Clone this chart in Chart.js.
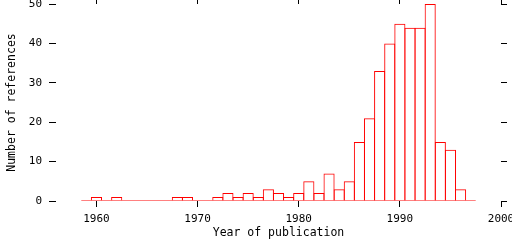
<!DOCTYPE html>
<html>
<head>
<meta charset="utf-8">
<script src="https://cdn.jsdelivr.net/npm/chart.js@4/dist/chart.umd.min.js"></script>
<style>
  html, body { margin: 0; padding: 0; background: #fff; }
  #wrap { width: 512px; height: 240px; }
</style>
</head>
<body>
<div id="wrap"><canvas id="chart" width="512" height="240"></canvas></div>
<script>
// histogram of references per year
const years = [1959, 1960, 1961, 1962, 1963, 1964, 1965, 1966, 1967, 1968,
  1969, 1970, 1971, 1972, 1973, 1974, 1975, 1976, 1977, 1978,
  1979, 1980, 1981, 1982, 1983, 1984, 1985, 1986, 1987, 1988,
  1989, 1990, 1991, 1992, 1993, 1994, 1995, 1996, 1997];
const counts = [0, 1, 0, 1, 0, 0, 0, 0, 0, 1,
  1, 0, 0, 1, 2, 1, 2, 1, 3, 2,
  1, 2, 5, 2, 7, 3, 5, 15, 21, 33,
  40, 45, 44, 44, 50, 15, 13, 3, 0];
const xTicks = [1960, 1970, 1980, 1990, 2000];
const yTicks = [0, 10, 20, 30, 40, 50];

const red = '#ff0000';
const mono = "'DejaVu Sans Mono', monospace";
const yearPx = (501 - 56) / 44;

const bars = years.map((y, i) => ({ x: y, y: counts[i] }));
const baseline = [
  { x: years[0] - 0.5, y: 0 },
  { x: years[years.length - 1] + 0.5, y: 0 }
];

// force axis box sizes and drop the label overflow padding
function fixSize(w, h) {
  return function (scale) {
    if (w != null) scale.width = w;
    if (h != null) scale.height = h;
    scale.paddingLeft = 0;
    scale.paddingRight = 0;
    scale.paddingTop = 0;
    scale.paddingBottom = 0;
  };
}

const ctx = document.getElementById('chart').getContext('2d');
new Chart(ctx, {
  data: {
    datasets: [
      {
        type: 'bar',
        data: bars,
        backgroundColor: 'rgba(0,0,0,0)',
        borderColor: red,
        borderWidth: 1,
        categoryPercentage: 1,
        barPercentage: 1 + 1 / yearPx,
        xAxisID: 'x',
        yAxisID: 'y'
      },
      {
        type: 'line',
        data: baseline,
        borderColor: red,
        borderWidth: 1,
        pointRadius: 0,
        xAxisID: 'x',
        yAxisID: 'y'
      }
    ]
  },
  options: {
    responsive: false,
    animation: false,
    events: [],
    layout: { padding: 0, autoPadding: false },
    plugins: { legend: { display: false }, tooltip: { enabled: false } },
    scales: {
      x: {
        type: 'linear',
        position: 'bottom',
        min: 1956,
        max: 2000,
        offset: false,
        afterFit: fixSize(null, 39),
        afterBuildTicks: (s) => { s.ticks = xTicks.map(v => ({ value: v })); },
        ticks: {
          includeBounds: false,
          maxRotation: 0,
          autoSkip: false,
          padding: 6,
          color: '#000',
          font: { family: mono, size: 11 },
          callback: (v) => String(v)
        },
        grid: { offset: false, drawOnChartArea: false, tickLength: 6, tickColor: '#000', tickWidth: 1 },
        border: { display: false },
        title: {
          display: true,
          text: 'Year of publication',
          color: '#000',
          font: { family: mono, size: 11.5 },
          padding: { top: 0, bottom: 0 }
        }
      },
      xTop: {
        type: 'linear',
        position: 'top',
        min: 1956,
        max: 2000,
        offset: false,
        afterFit: fixSize(null, 4),
        afterBuildTicks: (s) => { s.ticks = xTicks.map(v => ({ value: v })); },
        ticks: { display: false },
        grid: { offset: false, drawOnChartArea: false, tickLength: 4, tickColor: '#000', tickWidth: 1 },
        border: { display: false }
      },
      y: {
        type: 'linear',
        position: 'left',
        min: 0,
        max: 50,
        afterFit: fixSize(56, null),
        afterBuildTicks: (s) => { s.ticks = yTicks.map(v => ({ value: v })); },
        ticks: {
          padding: 7,
          color: '#000',
          font: { family: mono, size: 11 }
        },
        grid: { drawOnChartArea: false, tickLength: 7, tickColor: '#000', tickWidth: 1 },
        border: { display: false },
        title: {
          display: true,
          text: 'Number of references',
          color: '#000',
          font: { family: mono, size: 11.5 },
          padding: { top: 5, bottom: 0 }
        }
      },
      yRight: {
        type: 'linear',
        position: 'right',
        min: 0,
        max: 50,
        afterFit: fixSize(11, null),
        afterBuildTicks: (s) => { s.ticks = yTicks.map(v => ({ value: v })); },
        ticks: { display: false },
        grid: { drawOnChartArea: false, tickLength: 6, tickColor: '#000', tickWidth: 1 },
        border: { display: false }
      }
    }
  }
});
</script>
</body>
</html>
